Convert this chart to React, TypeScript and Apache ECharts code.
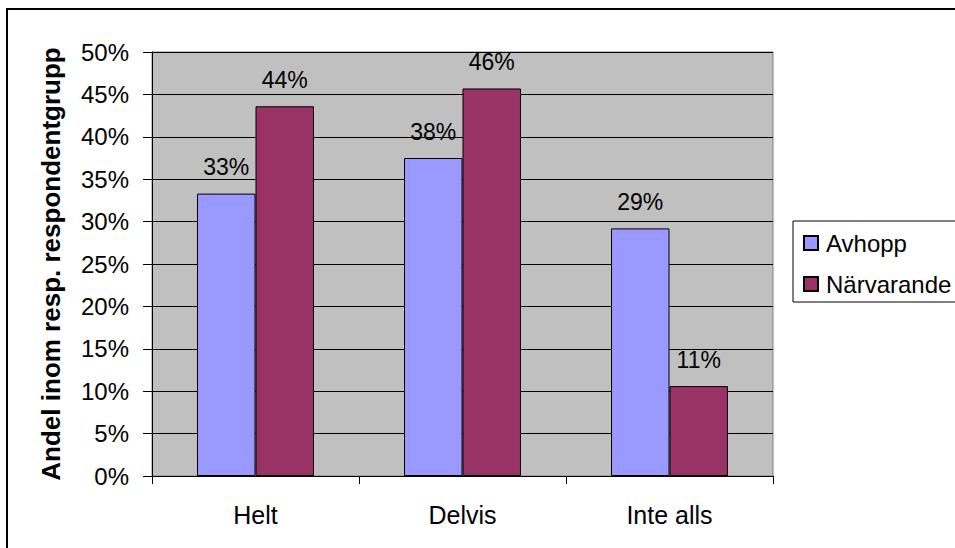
import React, { useEffect, useRef } from "react";
import * as echarts from "echarts";

const categories = ["Helt", "Delvis", "Inte alls"];
const avhopp = [33.3, 37.5, 29.2];
const narvarande = [43.6, 45.7, 10.6];
const seriesNames = ["Avhopp", "Närvarande"];
const yAxisTitle = "Andel inom resp. respondentgrupp";

const FONT = "'Liberation Sans', Arial, sans-serif";

export default function App() {
  const ref = useRef<HTMLDivElement>(null);

  useEffect(() => {
    if (!ref.current) return;
    const chart = echarts.init(ref.current, undefined, { renderer: "svg" });

    const label = {
      show: true,
      position: "top",
      distance: 15,
      fontSize: 23,
      fontFamily: FONT,
      color: "#000",
      formatter: (p: any) => Math.round(p.value) + "%",
    };

    chart.setOption({
      animation: false,
      backgroundColor: "#fff",
      textStyle: { fontFamily: FONT },
      graphic: [
        {
          type: "rect",
          shape: { x: 7, y: 9, width: 1000, height: 600 },
          style: { fill: "none", stroke: "#000", lineWidth: 2 },
          silent: true,
        },
      ],
      grid: {
        left: 152,
        top: 52,
        right: 182,
        bottom: 72,
        show: true,
        backgroundColor: "#C0C0C0",
        borderColor: "#808080",
        borderWidth: 1,
      },
      legend: {
        orient: "vertical",
        left: 793,
        top: 221,
        data: seriesNames,
        icon: "rect",
        itemWidth: 14,
        itemHeight: 14,
        itemGap: 17,
        padding: [10, 12, 6, 10],
        borderColor: "#000",
        borderWidth: 1,
        backgroundColor: "#fff",
        textStyle: { fontSize: 24, color: "#000", fontFamily: FONT, padding: [0, 0, 0, 3] },
      },
      xAxis: {
        type: "category",
        data: categories,
        axisLine: { show: true, lineStyle: { color: "#000", width: 1 } },
        axisTick: { show: true, length: 8, lineStyle: { color: "#000" } },
        axisLabel: { fontSize: 25, color: "#000", margin: 26, fontFamily: FONT },
        splitLine: { show: false },
      },
      yAxis: {
        type: "value",
        min: 0,
        max: 50,
        interval: 5,
        name: yAxisTitle,
        nameLocation: "middle",
        nameGap: 88,
        nameTextStyle: { fontSize: 26, fontWeight: "bold", color: "#000", fontFamily: FONT },
        axisLine: { show: true, lineStyle: { color: "#000", width: 1 } },
        axisTick: { show: true, length: 9, lineStyle: { color: "#000" } },
        axisLabel: { fontSize: 24, color: "#000", margin: 23, formatter: "{value}%", fontFamily: FONT },
        splitLine: { show: true, lineStyle: { color: "#000", width: 1 } },
      },
      series: [
        {
          name: seriesNames[0],
          type: "bar",
          data: avhopp,
          barGap: "0%",
          barCategoryGap: "43.5%",
          itemStyle: { color: "#9999FF", borderColor: "#000", borderWidth: 1 },
          label,
        },
        {
          name: seriesNames[1],
          type: "bar",
          data: narvarande,
          barGap: "0%",
          barCategoryGap: "43.5%",
          itemStyle: { color: "#993366", borderColor: "#000", borderWidth: 1 },
          label,
        },
      ],
    });

    return () => chart.dispose();
  }, []);

  return (
    <div
      ref={ref}
      style={{ position: "fixed", left: 0, top: 0, width: 955, height: 548 }}
    />
  );
}
